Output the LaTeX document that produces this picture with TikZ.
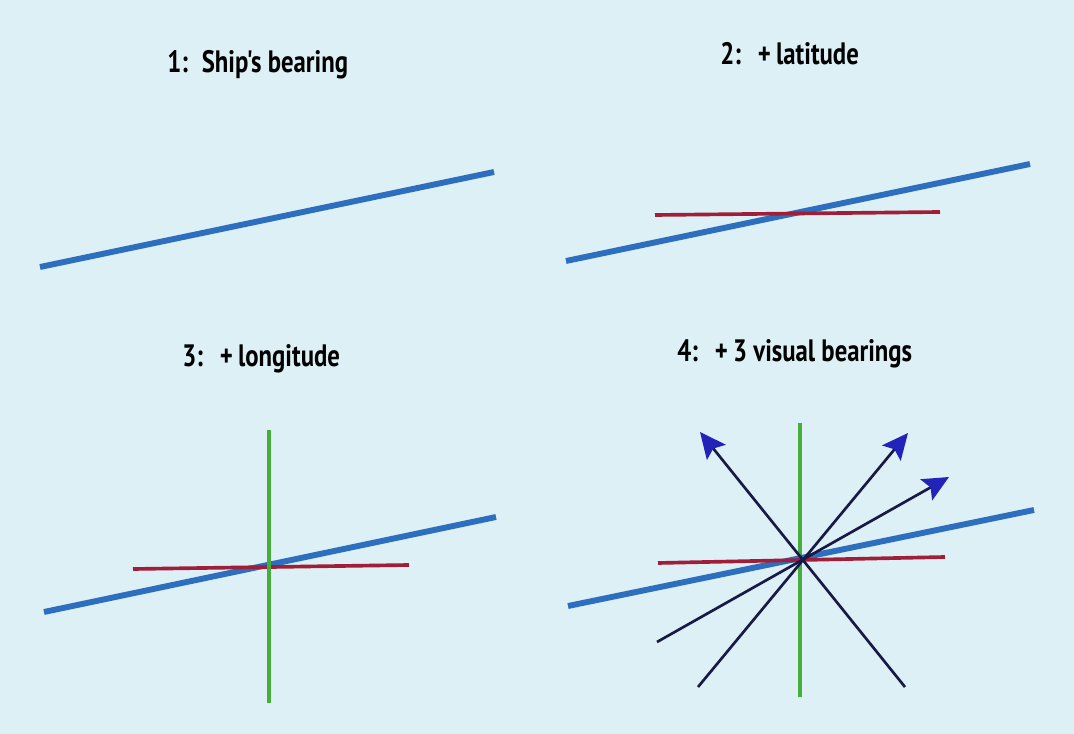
\documentclass[tikz,border=0pt]{standalone}
\usepackage{fontspec}
\newfontfamily\titlefont{PT Sans}[FakeStretch=0.8]
\usepackage{tikz}
\usetikzlibrary{arrows.meta, positioning}

\definecolor{paper}{RGB}{220,240,246}
\definecolor{shipblue}{RGB}{45,110,190}
\definecolor{latred}{RGB}{160,30,55}
\definecolor{longreen}{RGB}{70,175,60}
\definecolor{sightnavy}{RGB}{25,25,70}
\definecolor{tipblue}{RGB}{35,35,185}

\begin{document}
\begin{tikzpicture}[
        x=0.025cm, y=-0.025cm,
        title/.style={anchor=base west, inner sep=0pt, font=\titlefont\bfseries\fontsize{22}{26}\selectfont},
        bearing/.style={shipblue, line width=4.2pt},
        latitude/.style={latred, line width=2.6pt},
        longitude/.style={longreen, line width=2.4pt},
        sight/.style={sightnavy, line width=1.9pt, -{Stealth[length=0.65cm, width=0.6cm, inset=0.12cm, color=tipblue]}}
    ]
        \fill[paper] (0,0) rectangle (1074,734);
        \useasboundingbox (0,0) rectangle (1074,734);

        % panel 1
        \node[title] (title1) at (167,73) {1:\hspace{0.45em}Ship's bearing};
        \coordinate (ship1a) at (40,267);
        \coordinate (ship1b) at (494,172);
        \draw[bearing] (ship1a) -- (ship1b);

        % panel 2
        \node[title] (title2) at (720,65) {2:\hspace{0.55em}+\,latitude};
        \coordinate (ship2a) at (566,261);
        \coordinate (ship2b) at (1030,164);
        \coordinate (lat2a) at (655,215);
        \coordinate (lat2b) at (940,212);
        \draw[bearing] (ship2a) -- (ship2b);
        \draw[latitude] (lat2a) -- (lat2b);

        % panel 3
        \node[title] (title3) at (182,367) {3:\hspace{0.55em}+\,longitude};
        \coordinate (ship3a) at (44,612);
        \coordinate (ship3b) at (496,517);
        \coordinate (lat3a) at (133,569);
        \coordinate (lat3b) at (409,565);
        \coordinate (lon3a) at (269,430);
        \coordinate (lon3b) at (269,703);
        \draw[bearing] (ship3a) -- (ship3b);
        \draw[latitude] (lat3a) -- (lat3b);
        \draw[longitude] (lon3a) -- (lon3b);

        % panel 4
        \node[title] (title4) at (677,362) {4:\hspace{0.55em}+\,3 visual bearings};
        \coordinate (ship4a) at (568,606);
        \coordinate (ship4b) at (1034,510);
        \coordinate (lat4a) at (658,563);
        \coordinate (lat4b) at (945,557);
        \coordinate (lon4a) at (800,423);
        \coordinate (lon4b) at (800,697);
        \draw[longitude] (lon4a) -- (lon4b);
        \draw[bearing] (ship4a) -- (ship4b);
        \draw[latitude] (lat4a) -- (lat4b);
        \draw[sight] (905,687) -- (700,432);
        \draw[sight] (698,687) -- (908,433);
        \draw[sight] (657,642) -- (949,477);
    \end{tikzpicture}
\end{document}
